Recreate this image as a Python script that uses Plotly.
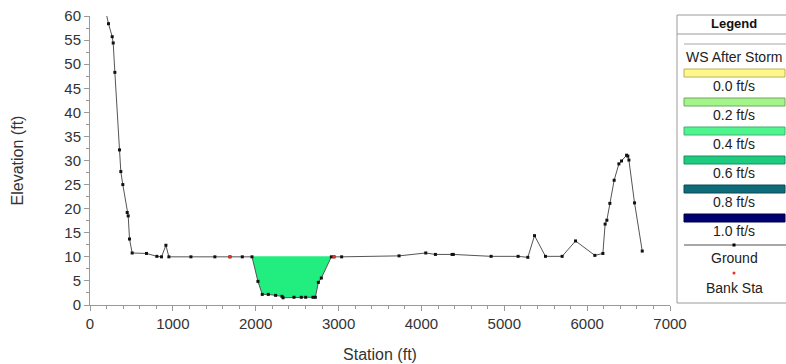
import plotly.graph_objects as go

# ---- data ----
ground_sta = [190, 223, 268, 280, 300, 356, 372, 396, 449, 461, 477, 509, 682, 807, 863,
              916, 952, 1218, 1507, 1689, 1838, 1955, 2027, 2079, 2152, 2240, 2317, 2330,
              2462, 2550, 2603, 2691, 2720, 2756, 2792, 2913, 2945, 3037, 3730, 4052, 4169,
              4370, 4385, 4841, 5167, 5284, 5365, 5497, 5698, 5860, 6093, 6190, 6217, 6238,
              6274, 6326, 6383, 6415, 6476, 6491, 6504, 6572, 6665]
ground_elev = [61, 58.4, 55.7, 54.4, 48.3, 32.2, 27.7, 25.0, 19.2, 18.5, 13.7, 10.8, 10.7, 10.1, 10.0,
               12.4, 10.0, 10.0, 10.0, 10.0, 10.0, 10.0, 4.9, 2.2, 2.2, 2.0, 1.8, 1.5,
               1.6, 1.6, 1.6, 1.6, 1.6, 4.7, 5.6, 10.0, 10.0, 10.0, 10.2, 10.8, 10.5,
               10.5, 10.5, 10.1, 10.1, 9.9, 14.4, 10.1, 10.1, 13.3, 10.3, 10.7, 16.8, 17.6,
               21.1, 25.9, 29.3, 29.9, 31.1, 30.9, 30.1, 21.2, 11.2]
bank_sta = [1689, 2945]
bank_elev = [10.0, 10.0]
ws_left, ws_right = 1955, 2913
ws_elev = 10.0

legend_labels = ["0.0 ft/s", "0.2 ft/s", "0.4 ft/s", "0.6 ft/s", "0.8 ft/s", "1.0 ft/s"]
legend_colors = ["#FFF78A", "#A3F58A", "#4EF58E", "#1ECC80", "#0E6B7A", "#00006E"]
legend_borders = ["#B8B060", "#70A860", "#40B070", "#159060", "#0A4A55", "#00004A"]
water_color = "#22EE80"

W, H = 786, 364
L, R, T, B = 90, 116, 16, 59
PW, PH = W - L - R, H - T - B

def px(x):
    return (x - L) / PW

def py(y):
    return (H - B - y) / PH

FONT = "Liberation Sans, Arial, sans-serif"

fig = go.Figure()

# water fill between ground and water surface
wx = [s for s in ground_sta if ws_left <= s <= ws_right]
wy = [min(e, ws_elev) for s, e in zip(ground_sta, ground_elev) if ws_left <= s <= ws_right]
fig.add_trace(go.Scatter(x=wx, y=wy, fill="toself", fillcolor=water_color,
                         mode="lines", line=dict(width=0, color=water_color),
                         hoverinfo="skip", showlegend=False))
fig.add_trace(go.Scatter(x=[ws_left, ws_right], y=[ws_elev, ws_elev], mode="lines",
                         line=dict(width=1, color=water_color), showlegend=False))

# ground
fig.add_trace(go.Scatter(x=ground_sta, y=ground_elev, mode="lines+markers",
                         line=dict(color="#555555", width=1),
                         marker=dict(color="#111111", size=3, symbol="square"),
                         showlegend=False))
# bank stations
fig.add_trace(go.Scatter(x=bank_sta, y=bank_elev, mode="markers",
                         marker=dict(color="#E8302A", size=3.5),
                         showlegend=False))

axis_font = dict(family=FONT, size=15, color="#333333")
title_font = dict(family=FONT, size=16, color="#333333")
fig.update_xaxes(range=[0, 7000], tick0=0, dtick=1000, ticks="outside", ticklen=5,
                 tickcolor="#999999", showline=True, linecolor="#999999", linewidth=1,
                 showgrid=False, zeroline=False, tickfont=axis_font, automargin=False,
                 minor=dict(ticks="outside", ticklen=3, dtick=200, tickcolor="#999999"),
                 title=dict(text="Station (ft)", font=title_font, standoff=17))
fig.update_yaxes(range=[0, 60], tick0=0, dtick=5, ticks="outside", ticklen=5,
                 tickcolor="#999999", showline=True, linecolor="#999999", linewidth=1,
                 showgrid=False, zeroline=False, tickfont=axis_font, automargin=False,
                 minor=dict(ticks="outside", ticklen=3, dtick=2.5, tickcolor="#999999"),
                 title=dict(text="Elevation (ft)", font=title_font, standoff=36))

# ---- custom legend panel ----
shapes = []
annotations = []
lf = dict(family=FONT, size=14, color="#222222")

def label(text, x, y, font):
    annotations.append(dict(text=text, x=px(x), y=py(y), xref="paper", yref="paper",
                            xanchor="center", yanchor="middle", showarrow=False, font=font))

box_l, box_r, box_t, box_b = 677, 790, 15, 303
shapes.append(dict(type="rect", xref="paper", yref="paper", x0=px(box_l), x1=px(box_r),
                   y0=py(box_b), y1=py(box_t), line=dict(color="#9A9A9A", width=1),
                   fillcolor="white", layer="above"))
shapes.append(dict(type="line", xref="paper", yref="paper", x0=px(box_l), x1=px(box_r),
                   y0=py(34), y1=py(34), line=dict(color="#9A9A9A", width=1), layer="above"))
shapes.append(dict(type="line", xref="paper", yref="paper", x0=px(684), x1=px(790),
                   y0=py(44), y1=py(44), line=dict(color="#A8A8A8", width=1), layer="above"))
cx = 734
label("<b>Legend</b>", cx, 24, dict(family=FONT, size=13, color="#111111"))
label("WS After Storm", cx, 57, lf)
for i, (lab, col, bc) in enumerate(zip(legend_labels, legend_colors, legend_borders)):
    yc = 73 + i * 29
    shapes.append(dict(type="rect", xref="paper", yref="paper", x0=px(684), x1=px(785),
                       y0=py(yc + 4), y1=py(yc - 4), fillcolor=col,
                       line=dict(color=bc, width=1), layer="above"))
    label(lab, cx, yc + 13, lf)
# ground legend entry
shapes.append(dict(type="line", xref="paper", yref="paper", x0=px(684), x1=px(790),
                   y0=py(245), y1=py(245), line=dict(color="#505050", width=1), layer="above"))
shapes.append(dict(type="rect", xref="paper", yref="paper", x0=px(cx - 1.5), x1=px(cx + 1.5),
                   y0=py(246.5), y1=py(243.5), fillcolor="#000000", line=dict(width=0), layer="above"))
label("Ground", cx, 258, lf)
shapes.append(dict(type="circle", xref="paper", yref="paper", x0=px(cx - 1.5), x1=px(cx + 1.5),
                   y0=py(274.5), y1=py(271.5), fillcolor="#E8302A", line=dict(width=0), layer="above"))
label("Bank Sta", cx, 288, lf)

fig.update_layout(width=W, height=H, margin=dict(l=L, r=R, t=T, b=B, pad=0),
                  paper_bgcolor="white", plot_bgcolor="white",
                  shapes=shapes, annotations=annotations, showlegend=False)

fig.write_html("out.html")
